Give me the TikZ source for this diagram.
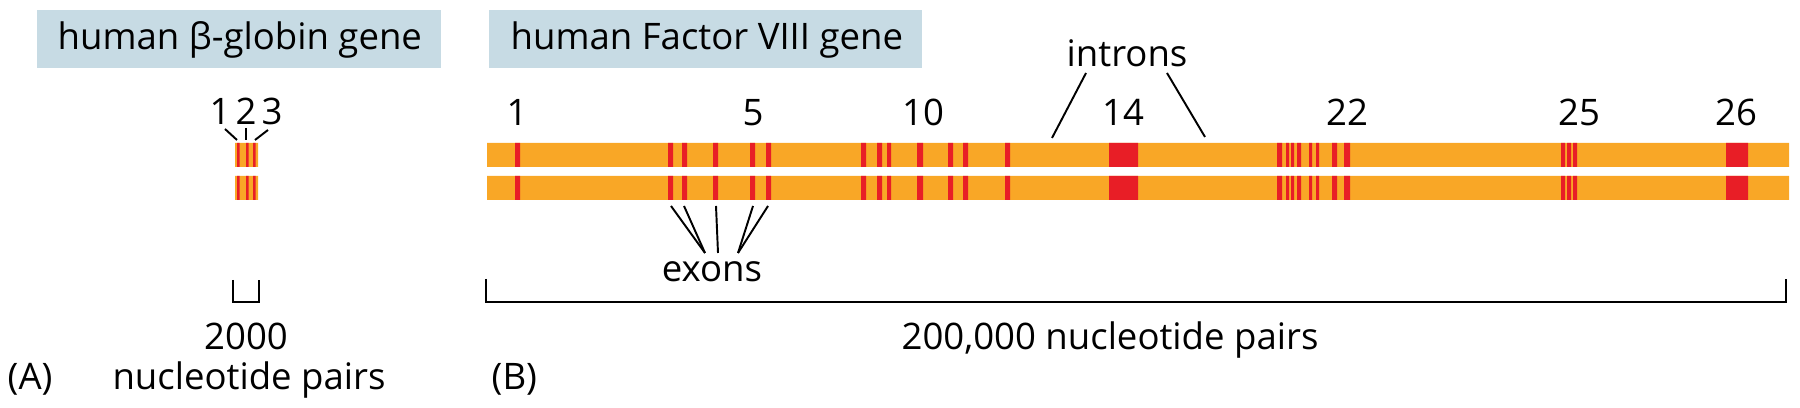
\documentclass[tikz,border=0pt]{standalone}
\usepackage{fontspec}
\setmainfont{Open Sans}
\definecolor{barorange}{RGB}{249,167,38}
\definecolor{exonred}{RGB}{232,30,38}
\definecolor{titleblue}{RGB}{199,219,228}

\begin{document}
\begin{tikzpicture}[x=0.1mm,y=-0.1mm,
    lbl/.style={inner sep=0pt,anchor=base,font=\fontsize{10.4}{12}\selectfont},
    tick/.style={line width=0.55pt,black},
    brace/.style={line width=0.7pt,black}]
    \useasboundingbox (0,0) rectangle (1800,408);

    % Titoli nei riquadri azzurri
    \fill[titleblue] (37,10) rectangle (441,68);
    \node[lbl,anchor=base west] (titA) at (57,50) {human β-globin gene};
    \fill[titleblue] (489,10) rectangle (922,68);
    \node[lbl,anchor=base west] (titB) at (510,50) {human Factor VIII gene};

    % Gene della beta-globina (A)
    \fill[barorange] (235,143) rectangle (258,167) (235,176) rectangle (258,200);
    \foreach \a in {237,246,253}
        \fill[exonred] (\a,143) rectangle (\a+2.5,167) (\a,176) rectangle (\a+2.5,200);

    \node[lbl] (sn1) at (220,125) {1};
    \node[lbl] (sn2) at (246,125) {2};
    \node[lbl] (sn3) at (272,125) {3};
    \coordinate (sa1) at (225,129); \coordinate (sb1) at (237,140);
    \coordinate (sa2) at (246,128); \coordinate (sb2) at (246,140);
    \coordinate (sa3) at (268,130); \coordinate (sb3) at (255,140);
    \foreach \i in {1,2,3}
        \draw[tick] (sa\i) -- (sb\i);

    % Gene del Fattore VIII (B)
    \fill[barorange] (487,143) rectangle (1789,167) (487,176) rectangle (1789,200);
    \foreach \a/\b in {515/520, 668/673, 682/687, 713/718, 750/755, 766/771,
                       861/866, 877/882, 887/891, 917/923, 948/953, 963/968,
                       1005/1010, 1109/1138,
                       1277/1282, 1286/1289, 1291/1294, 1297/1301, 1309/1312,
                       1316/1319, 1332/1337, 1344/1350,
                       1561/1565, 1567/1571, 1573/1577, 1726/1748}
        \fill[exonred] (\a,143) rectangle (\b,167) (\a,176) rectangle (\b,200);

    % Numeri degli esoni
    \foreach \n/\x in {1/517, 5/753, 10/923, 14/1123, 22/1347, 25/1579, 26/1736}
        \node[lbl] (ex\n) at (\x,126) {\n};

    % Introni
    \node[lbl] (introns) at (1127,67) {introns};
    \coordinate (ia1) at (1086,73); \coordinate (ib1) at (1052,138);
    \coordinate (ia2) at (1167,73); \coordinate (ib2) at (1205,137);
    \draw[tick] (ia1) -- (ib1);
    \draw[tick] (ia2) -- (ib2);

    % Esoni
    \node[lbl] (exons) at (712,282) {exons};
    \coordinate (ea) at (705,253);
    \coordinate (eb) at (718,253);
    \coordinate (ec) at (738,253);
    \foreach \x/\e in {671/ea, 684/ea, 716/eb, 753/ec, 768/ec}
        \draw[tick] (\x,206) -- (\e);

    % Scale
    \draw[brace] (233,280) -- (233,302) -- (259,302) -- (259,280);
    \node[lbl] (lenA) at (246,350) {2000};
    \node[lbl] (unitA) at (249,390) {nucleotide pairs};
    \node[lbl,anchor=base west] (partA) at (7,390) {(A)};

    \draw[brace] (486,279) -- (486,302) -- (1786,302) -- (1786,279);
    \node[lbl] (lenB) at (1110,350) {200,000 nucleotide pairs};
    \node[lbl,anchor=base west] (partB) at (491,390) {(B)};

\end{tikzpicture}
\end{document}
